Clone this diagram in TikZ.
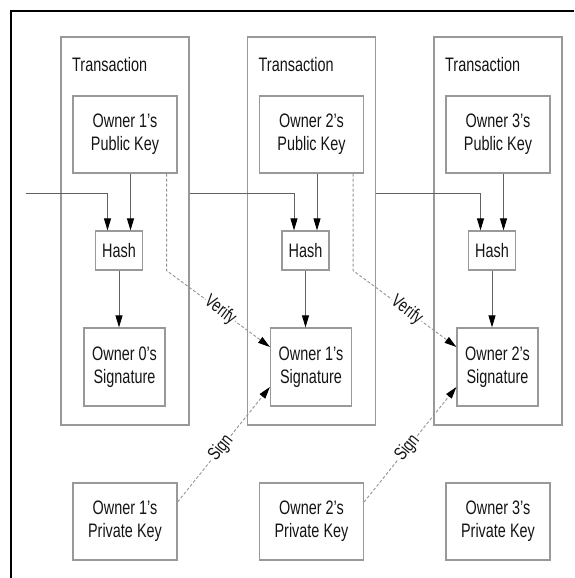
\documentclass[tikz,border=0pt]{standalone}
\usepackage{fontspec}
\setmainfont{Liberation Sans}[FakeStretch=0.74]
\usetikzlibrary{arrows.meta}
\tikzset{>={Triangle[length=12pt,width=7pt,color=black]}}

\begin{document}
\begin{tikzpicture}[x=1pt,y=-1pt,
  box/.style={draw=black!40,line width=1.2pt,inner sep=0pt,align=center,text=black!92,font=\fontsize{19.5}{23}\selectfont},
  txn/.style={box,minimum width=128pt,minimum height=388pt},
  key/.style={box,minimum width=104pt,minimum height=77pt},
  hashbox/.style={box,minimum width=47pt,minimum height=39pt},
  sig/.style={box,minimum width=81pt,minimum height=78pt},
  title/.style={anchor=west,inner sep=0pt,text=black!92,font=\fontsize{19.5}{23}\selectfont},
  link/.style={draw=black!62,line width=0.9pt},
  verify/.style={draw=black!42,line width=0.9pt,dash pattern=on 3pt off 2pt},
  tag/.style={sloped,fill=white,inner sep=1pt,text=black!92,font=\fontsize{18.5}{21}\selectfont}]
\useasboundingbox (0,0) rectangle (574,578);
\draw[line width=2.5pt] (11,578) -- (11,11) -- (574,11);
\coordinate (feed) at (26,193);
\begin{scope}
    \node[txn] (tx1) at (125,231) {};
    \node[title] (lbl1) at (72,65) {Transaction};
    \node[key] (pub1) at (125,134.5) {Owner 1's\\Public Key};
    \node[hashbox] (hash1) at (119,250.5) {Hash};
    \node[sig] (sig1) at (124.5,367) {Owner 0's\\Signature};
    \node[key] (priv1) at (125,521.5) {Owner 1's\\Private Key};
    \coordinate (in1) at ([xshift=-11.5pt]hash1.north);
    \coordinate (k1) at ([xshift=11.5pt]hash1.north);
    \draw[link,->] (feed) -| (in1);
    \draw[link,->] (k1 |- pub1.south) -- (k1);
    \draw[link,->] (hash1) -- (hash1 |- sig1.north);
\end{scope}
\begin{scope}[xshift=186.5pt]
    \node[txn] (tx2) at (125,231) {};
    \node[title] (lbl2) at (72,65) {Transaction};
    \node[key] (pub2) at (125,134.5) {Owner 2's\\Public Key};
    \node[hashbox] (hash2) at (119,250.5) {Hash};
    \node[sig] (sig2) at (124.5,367) {Owner 1's\\Signature};
    \node[key] (priv2) at (125,521.5) {Owner 2's\\Private Key};
    \coordinate (in2) at ([xshift=-11.5pt]hash2.north);
    \coordinate (k2) at ([xshift=11.5pt]hash2.north);
    \draw[link,->] (tx1.east |- feed) -| (in2);
    \draw[link,->] (k2 |- pub2.south) -- (k2);
    \draw[link,->] (hash2) -- (hash2 |- sig2.north);
\end{scope}
\begin{scope}[xshift=373pt]
    \node[txn] (tx3) at (125,231) {};
    \node[title] (lbl3) at (72,65) {Transaction};
    \node[key] (pub3) at (125,134.5) {Owner 3's\\Public Key};
    \node[hashbox] (hash3) at (119,250.5) {Hash};
    \node[sig] (sig3) at (124.5,367) {Owner 2's\\Signature};
    \node[key] (priv3) at (125,521.5) {Owner 3's\\Private Key};
    \coordinate (in3) at ([xshift=-11.5pt]hash3.north);
    \coordinate (k3) at ([xshift=11.5pt]hash3.north);
    \draw[link,->] (tx2.east |- feed) -| (in3);
    \draw[link,->] (k3 |- pub3.south) -- (k3);
    \draw[link,->] (hash3) -- (hash3 |- sig3.north);
\end{scope}
% public key checks the next signature, private key makes it
\coordinate (v1) at ([xshift=-11pt]pub1.south east);
\coordinate (v2) at ([xshift=-11pt]pub2.south east);
\draw[verify,->] (v1) -- (v1 |- hash1.south) -- node[tag,pos=0.52] {Verify} ([yshift=20pt]sig2.west);
\draw[verify,->] (v2) -- (v2 |- hash2.south) -- node[tag,pos=0.52] {Verify} ([yshift=20pt]sig3.west);
\draw[verify,->] ([yshift=19.5pt]priv1.east) -- node[tag,pos=0.47] {Sign} ([yshift=-20pt]sig2.west);
\draw[verify,->] ([yshift=19.5pt]priv2.east) -- node[tag,pos=0.47] {Sign} ([yshift=-20pt]sig3.west);
\end{tikzpicture}
\end{document}
